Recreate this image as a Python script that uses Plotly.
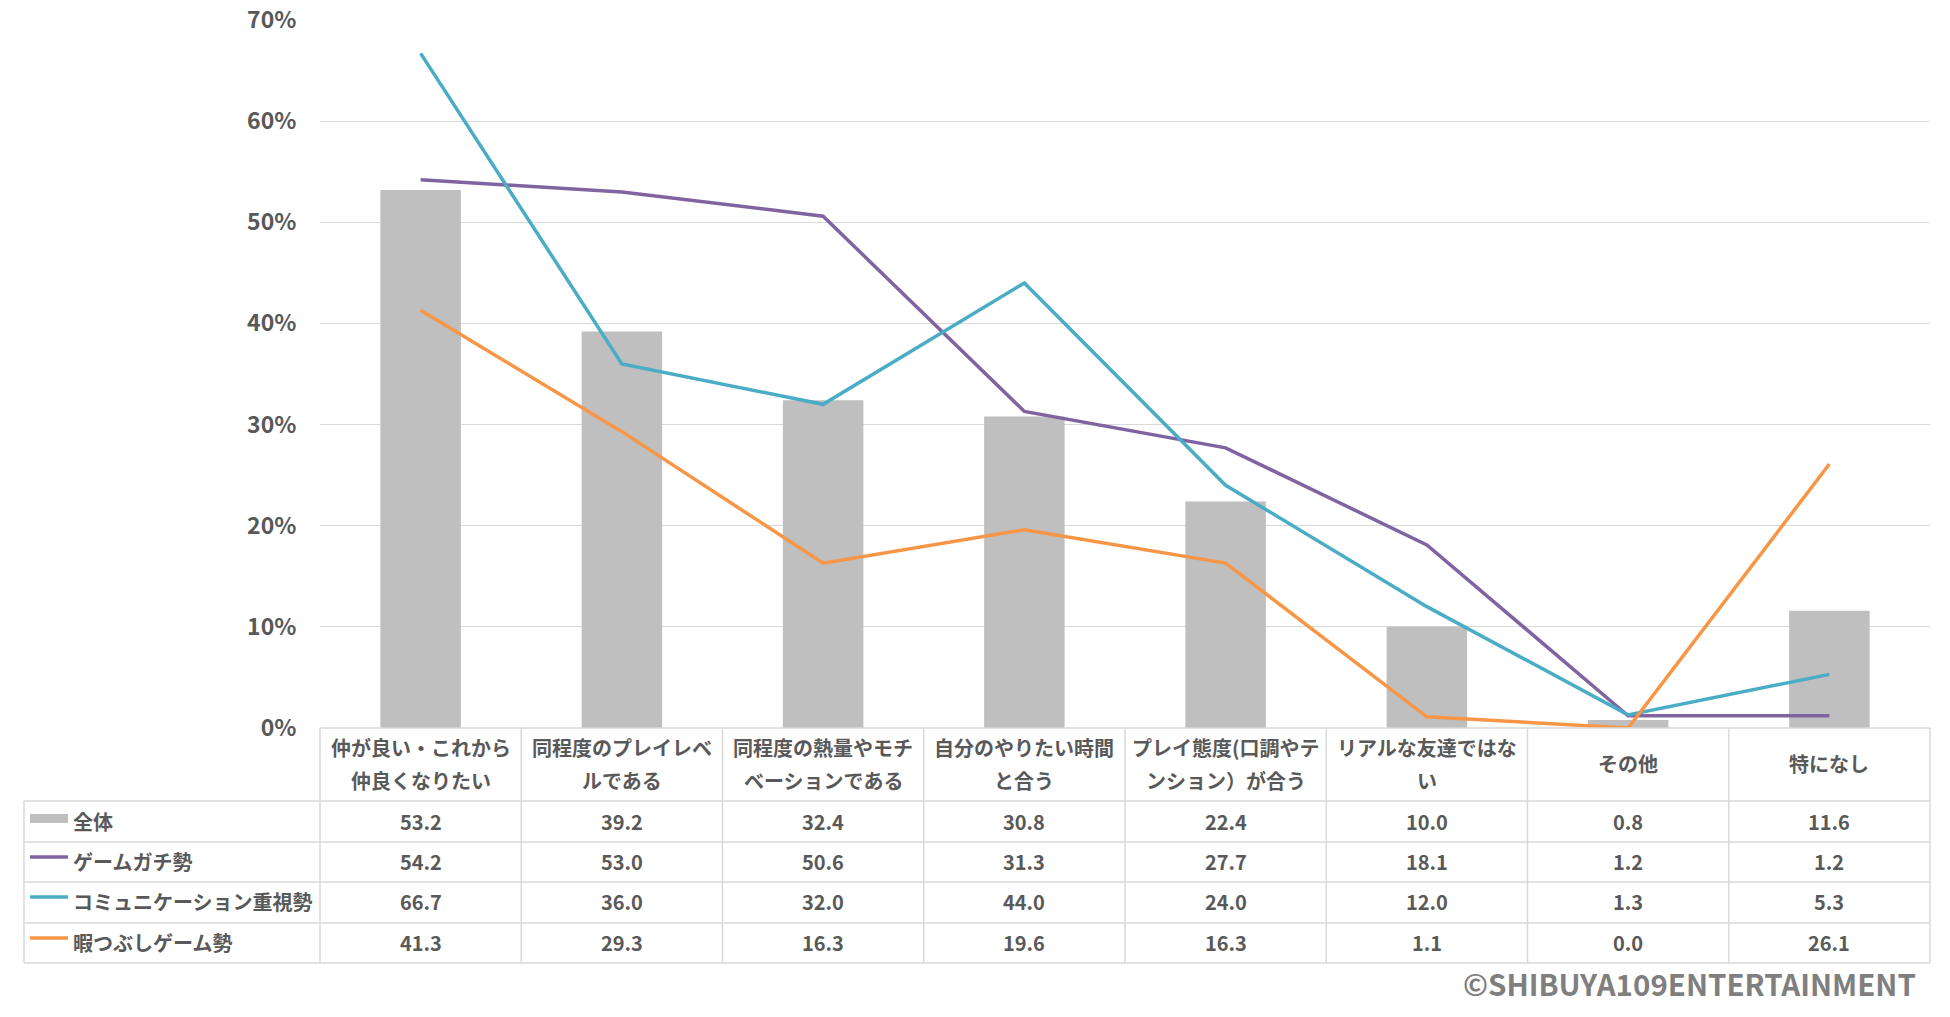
import plotly.graph_objects as go

categories = [
    "仲が良い・これから\n仲良くなりたい",
    "同程度のプレイレベ\nルである",
    "同程度の熱量やモチ\nベーションである",
    "自分のやりたい時間\nと合う",
    "プレイ態度(口調やテ\nンション）が合う",
    "リアルな友達ではな\nい",
    "その他",
    "特になし",
]
series_names = ["全体", "ゲームガチ勢", "コミュニケーション重視勢", "暇つぶしゲーム勢"]
total = [53.2, 39.2, 32.4, 30.8, 22.4, 10.0, 0.8, 11.6]
gachi = [54.2, 53.0, 50.6, 31.3, 27.7, 18.1, 1.2, 1.2]
comm = [66.7, 36.0, 32.0, 44.0, 24.0, 12.0, 1.3, 5.3]
hima = [41.3, 29.3, 16.3, 19.6, 16.3, 1.1, 0.0, 26.1]
y_ticks = [0, 10, 20, 30, 40, 50, 60, 70]

colors = ["#BFBFBF", "#8064A2", "#4BACC6", "#F79646"]
series = [total, gachi, comm, hima]

W, H = 1950, 1017
L, R, T, B = 320, 1930, 20, 728
pw = R - L
ph = B - T

def py(y):
    return (B - y) / ph

def pxx(x):
    return (x - L) / pw

n = len(categories)
xkeys = [c.replace("\n", "") for c in categories]

FONT = "Noto Sans CJK JP"
TXT = "#595959"
GRID = "#D9D9D9"
TW = "bold"

fig = go.Figure()
fig.add_trace(go.Bar(x=xkeys, y=total, marker=dict(color=colors[0], line=dict(width=0)),
                     name=series_names[0], width=0.4))
for s, c, nm in zip(series[1:], colors[1:], series_names[1:]):
    fig.add_trace(go.Scatter(x=xkeys, y=s, mode="lines", line=dict(color=c, width=3.5),
                             name=nm))

shapes = []
annotations = []

def col_edge(j):
    return j / n

header_top, header_bot = 728, 801
row_lines = [801, 842, 882, 923, 963]
table_left = 24
shapes.append(dict(type="line", xref="paper", yref="paper", x0=0, x1=1,
                   y0=py(header_top), y1=py(header_top), line=dict(color=GRID, width=1.5)))
for yl in row_lines:
    shapes.append(dict(type="line", xref="paper", yref="paper", x0=pxx(table_left), x1=1,
                       y0=py(yl), y1=py(yl), line=dict(color=GRID, width=1.5)))
for j in range(n + 1):
    shapes.append(dict(type="line", xref="paper", yref="paper", x0=col_edge(j), x1=col_edge(j),
                       y0=py(header_top), y1=py(row_lines[-1]), line=dict(color=GRID, width=1.5)))
shapes.append(dict(type="line", xref="paper", yref="paper", x0=pxx(table_left), x1=pxx(table_left),
                   y0=py(header_bot), y1=py(row_lines[-1]), line=dict(color=GRID, width=1.5)))

for i, c in enumerate(categories):
    lines = c.split("\n")
    ys = [747, 780] if len(lines) == 2 else [763]
    for ln, yy in zip(lines, ys):
        annotations.append(dict(x=i, y=py(yy), xref="x", yref="paper", text=ln, showarrow=False,
                                xanchor="center", yanchor="middle",
                                font=dict(family=FONT, size=20, color=TXT, weight=TW)))

row_centers = [821, 861, 901, 942]
for r, (s, nm, c) in enumerate(zip(series, series_names, colors)):
    yc = row_centers[r]
    for i, v in enumerate(s):
        annotations.append(dict(x=i, y=py(yc), xref="x", yref="paper", text=f"{v:.1f}",
                                showarrow=False, xanchor="center", yanchor="middle",
                                font=dict(family=FONT, size=20, color=TXT, weight=TW)))
    annotations.append(dict(x=pxx(71), y=py(yc), xref="paper", yref="paper", text=nm,
                            showarrow=False, xanchor="left", yanchor="middle",
                            font=dict(family=FONT, size=20, color=TXT, weight=TW)))
    if r == 0:
        shapes.append(dict(type="rect", xref="paper", yref="paper", x0=pxx(30), x1=pxx(68),
                           y0=py(yc - 7), y1=py(yc + 2), fillcolor=c, line=dict(width=0)))
    else:
        shapes.append(dict(type="line", xref="paper", yref="paper", x0=pxx(30), x1=pxx(68),
                           y0=py(yc - 4), y1=py(yc - 4), line=dict(color=c, width=3.5)))

annotations.append(dict(x=pxx(1918), y=py(983), xref="paper", yref="paper",
                        text="©SHIBUYA109ENTERTAINMENT", showarrow=False,
                        xanchor="right", yanchor="middle",
                        font=dict(family=FONT, size=29.5, color="#7F7F7F", weight="bold")))

fig.update_layout(
    width=W, height=H, autosize=False,
    margin=dict(l=L, r=W - R, t=T, b=H - B, pad=0),
    paper_bgcolor="white", plot_bgcolor="white",
    showlegend=False, bargap=0.6,
    shapes=shapes, annotations=annotations,
    xaxis=dict(type="category", range=[-0.5, n - 0.5], showticklabels=False, showgrid=False,
               zeroline=False, showline=False, ticks="", automargin=False),
    yaxis=dict(range=[0, 70], tickvals=y_ticks, ticktext=[f"{t}%" for t in y_ticks],
               showgrid=True, gridcolor=GRID, gridwidth=1, zeroline=False, showline=False,
               ticks="outside", ticklen=18, tickcolor="rgba(0,0,0,0)", automargin=False,
               tickfont=dict(family=FONT, size=23, color=TXT, weight="bold")),
)

fig.write_html("out.html", config={"displayModeBar": False},
               post_script="document.body.style.margin='0';document.body.style.overflow='hidden';")
